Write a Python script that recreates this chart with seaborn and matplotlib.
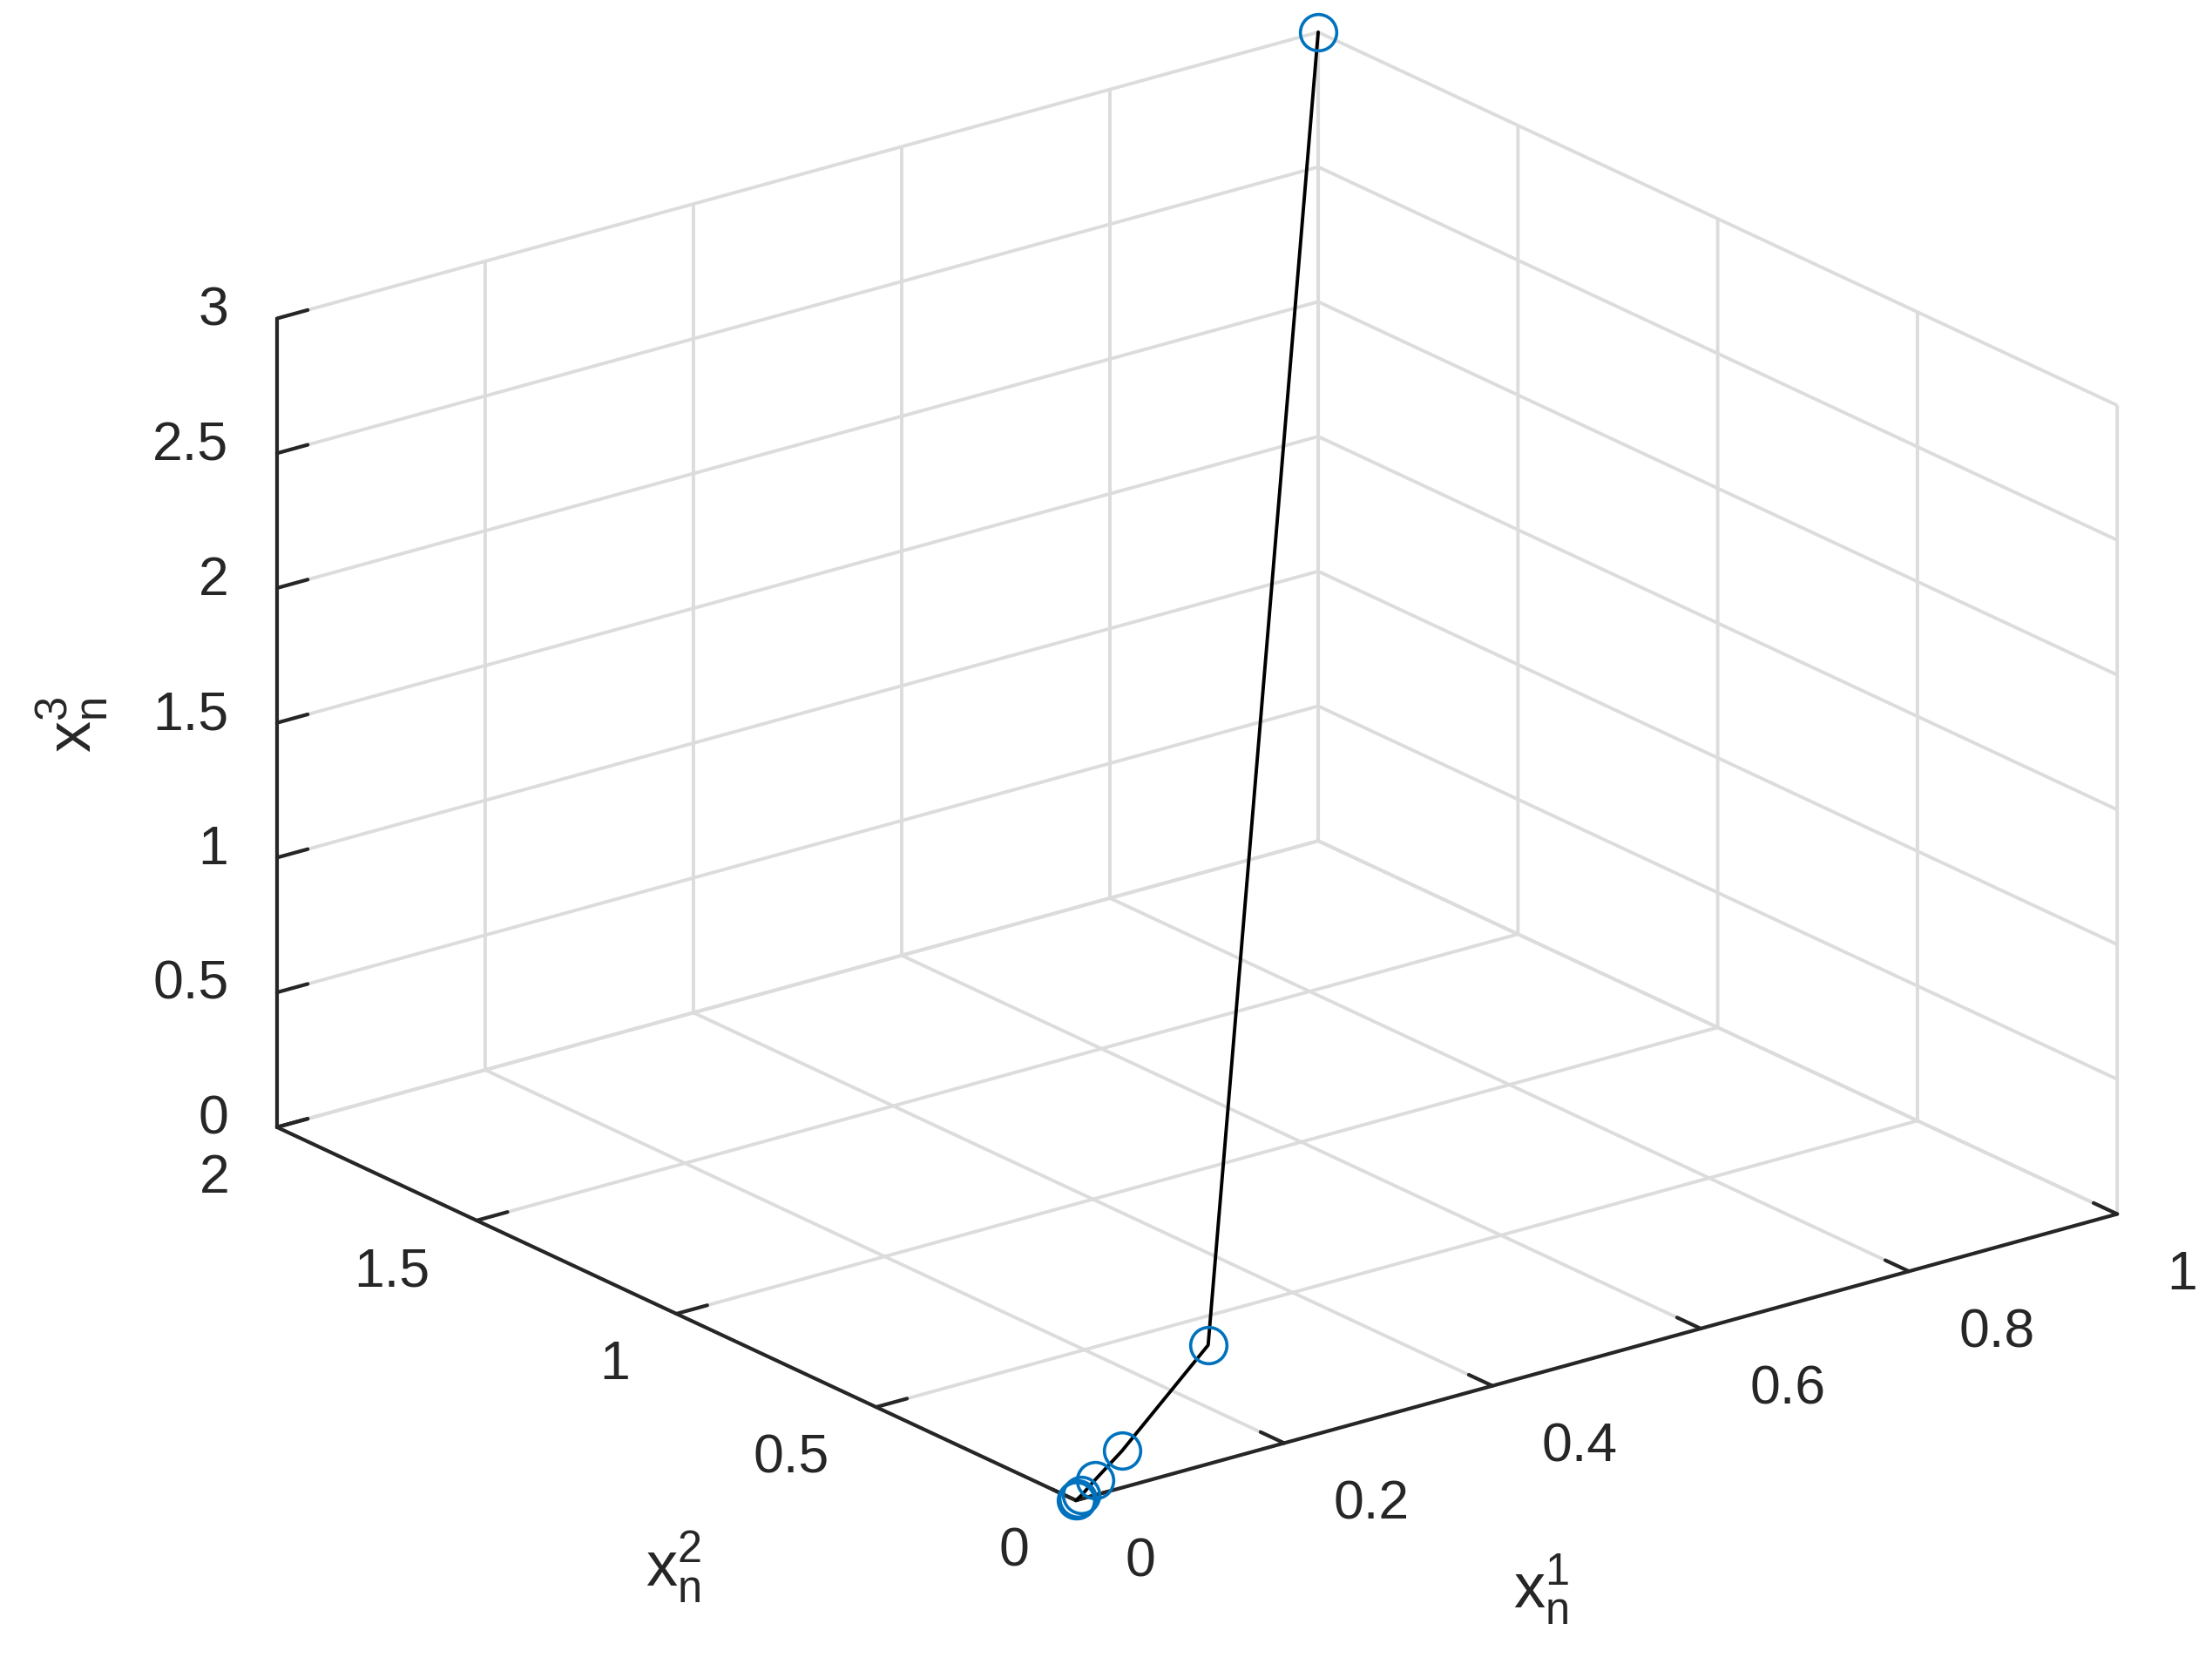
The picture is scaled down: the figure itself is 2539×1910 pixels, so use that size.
import numpy as np
import pandas as pd
import matplotlib
matplotlib.use("Agg")
import matplotlib.pyplot as plt
import seaborn as sns
from mpl_toolkits.mplot3d import proj3d

sns.set_theme(style="white")
plt.rcParams['font.family'] = ['Liberation Sans', 'DejaVu Sans']
plt.rcParams['mathtext.fontset'] = 'custom'
plt.rcParams['mathtext.rm'] = 'Liberation Sans'
plt.rcParams['mathtext.it'] = 'Liberation Sans'
plt.rcParams['mathtext.default'] = 'regular'

# iterates x_n = (x^1_n, x^2_n, x^3_n)
x1 = [1.0, 0.15, 0.05, 0.02, 0.006, 0.002, 0.0007, 0.0002]
x2 = [2.0, 0.06, 0.015, 0.005, 0.0015, 0.0004, 0.0001, 0.00003]
x3 = [3.0, 0.375, 0.12, 0.05, 0.012, 0.004, 0.0013, 0.0004]

xticks = [0, 0.2, 0.4, 0.6, 0.8, 1]
yticks = [0, 0.5, 1, 1.5, 2]
zticks = [0, 0.5, 1, 1.5, 2, 2.5, 3]

df = pd.DataFrame({'x1': x1, 'x2': x2, 'x3': x3})

blue = '#0072BD'
dark = '#262626'
gridc = '#dcdcdc'
tick_fs = 22.5
label_fs = 26

fig = plt.figure(figsize=(12.695, 9.55), dpi=200)
ax = fig.add_axes([0.031, 0.026, 1, 1], projection='3d', proj_type='ortho')
ax.view_init(elev=21, azim=-127.5)
ax.set_box_aspect((1, 1, 0.66), zoom=1.195)

ax.plot(df['x1'], df['x2'], df['x3'], color='black', lw=1.4)
ax.plot(df['x1'], df['x2'], df['x3'], ls='none', marker='o', ms=15,
        mfc='none', mec=blue, mew=1.3)

ax.set_xlim(0, 1)
ax.set_ylim(0, 2)
ax.set_zlim(0, 3)
ax.set_xticks(xticks)
ax.set_yticks(yticks)
ax.set_zticks(zticks)

for axis in (ax.xaxis, ax.yaxis, ax.zaxis):
    axis.set_tick_params(labelbottom=False, labeltop=False)
    axis.set_pane_color((1, 1, 1, 0))
    axis.pane.set_edgecolor(gridc)
    axis.pane.set_linewidth(1.4)
    axis.line.set_color(dark)
    axis.line.set_linewidth(1.5)
    axis._axinfo['grid'].update(color=gridc, linewidth=1.4, linestyle='-')
    axis._axinfo['tick'].update(inward_factor=0.0, outward_factor=0.37,
                                linewidth={True: 1.5, False: 0.5})
ax.tick_params(colors=dark)

# tick labels, MATLAB style (x left aligned, y and z right aligned),
# anchored at projected 3D points so the text keeps plain 2D positions
fig.canvas.draw()
M = ax.get_proj()


def label_at(x, y, z, s, ha):
    px, py, _ = proj3d.proj_transform(x, y, z, M)
    ax.text2D(px, py, s, transform=ax.transData, ha=ha, va='baseline',
              fontsize=tick_fs, color=dark)


for t in xticks:
    label_at(t, -0.124, -0.195, f'{t:g}', 'left')
for t in yticks:
    label_at(-0.045, t, -0.195, f'{t:g}', 'right')
for t in zticks:
    label_at(-0.038, 2.0222, t, f'{t:g}', 'right')

# axis labels
fig.text(0.697, 0.0445, '$x^1_n$', ha='center', va='center', fontsize=label_fs, color=dark)
fig.text(0.3044, 0.0581, '$x^2_n$', ha='center', va='center', fontsize=label_fs, color=dark)
fig.text(0.0327, 0.5644, '$x^3_n$', ha='center', va='center', fontsize=label_fs,
         color=dark, rotation=90)

fig.savefig('out.png', dpi=200)
